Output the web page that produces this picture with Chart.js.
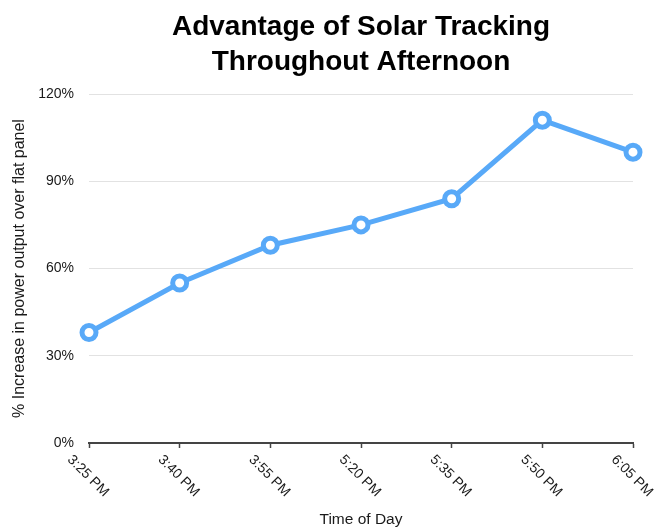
<!DOCTYPE html>
<html>
<head>
<meta charset="utf-8">
<style>
  html, body { margin: 0; padding: 0; background: #fff; }
  #wrap { width: 654px; height: 529px; }
</style>
<script src="https://cdn.jsdelivr.net/npm/chart.js@4/dist/chart.umd.min.js"></script>
</head>
<body>
<div id="wrap"><canvas id="chart" width="654" height="529"></canvas></div>
<script>
// Sample times through the afternoon
const timeLabels = ['3:25 PM', '3:40 PM', '3:55 PM', '5:20 PM', '5:35 PM', '5:50 PM', '6:05 PM'];
// Percent increase in power output of the tracking panel over the flat panel
const trackingGain = [38, 55, 68, 75, 84, 111, 100];
// Y axis tick values (percent)
const yTickValues = [0, 30, 60, 90, 120];

const FONT = '"Liberation Sans", Arial, Helvetica, sans-serif';
const LINE_BLUE = '#58a9f8';

// X tick labels are written top-left to bottom-right, centred under each tick
const slantedLabels = {
  id: 'slantedLabels',
  afterDraw(chart) {
    const xs = chart.scales.x;
    const ctx = chart.ctx;
    ctx.save();
    ctx.font = '14px ' + FONT;
    ctx.fillStyle = '#1a1a1a';
    ctx.textAlign = 'center';
    ctx.textBaseline = 'middle';
    timeLabels.forEach((lbl, i) => {
      const x = xs.getPixelForTick(i) - 1;
      const y = xs.top + 33;
      ctx.save();
      ctx.translate(x, y);
      ctx.rotate(Math.PI / 4);
      ctx.fillText(lbl, 0, 0);
      ctx.restore();
    });
    ctx.restore();
  }
};

new Chart(document.getElementById('chart'), {
  type: 'line',
  data: {
    labels: timeLabels,
    datasets: [{
      data: trackingGain,
      borderColor: LINE_BLUE,
      borderWidth: 5,
      backgroundColor: '#ffffff',
      pointBackgroundColor: '#ffffff',
      pointBorderColor: LINE_BLUE,
      pointBorderWidth: 5,
      pointRadius: 7,
      pointHoverRadius: 7,
      tension: 0,
      fill: false
    }]
  },
  options: {
    responsive: false,
    animation: false,
    devicePixelRatio: 1,
    layout: { padding: { left: 0, right: 21, top: 0, bottom: 0 } },
    plugins: {
      legend: { display: false },
      tooltip: { enabled: false },
      title: {
        display: true,
        fullSize: false,
        text: ['Advantage of Solar Tracking', 'Throughout Afternoon'],
        color: '#000000',
        font: { family: FONT, size: 28, weight: 'bold', lineHeight: 1.25 },
        padding: { top: 10, bottom: 14 }
      }
    },
    scales: {
      x: {
        offset: false,
        ticks: { display: false },
        grid: {
          drawOnChartArea: false,
          drawTicks: true,
          tickLength: 5,
          tickColor: '#444444',
          tickWidth: 1.5
        },
        border: { display: true, color: '#444444', width: 2 },
        title: {
          display: true,
          text: 'Time of Day',
          color: '#1a1a1a',
          font: { family: FONT, size: 15.5 },
          padding: { top: 0, bottom: 0 }
        },
        afterFit(scale) { scale.height = 86; }
      },
      y: {
        min: yTickValues[0],
        max: yTickValues[yTickValues.length - 1],
        afterBuildTicks(scale) { scale.ticks = yTickValues.map(v => ({ value: v })); },
        ticks: {
          padding: 15,
          color: '#1a1a1a',
          font: { family: FONT, size: 14 },
          callback: v => v + '%'
        },
        grid: { color: '#e2e2e2', lineWidth: 1, drawTicks: false },
        border: { display: false },
        title: {
          display: true,
          text: '% Increase in power output over flat panel',
          color: '#1a1a1a',
          font: { family: FONT, size: 16 },
          padding: { top: 10, bottom: 0 }
        },
        afterFit(scale) { scale.width = 89; }
      }
    }
  },
  plugins: [slantedLabels]
});
</script>
</body>
</html>
